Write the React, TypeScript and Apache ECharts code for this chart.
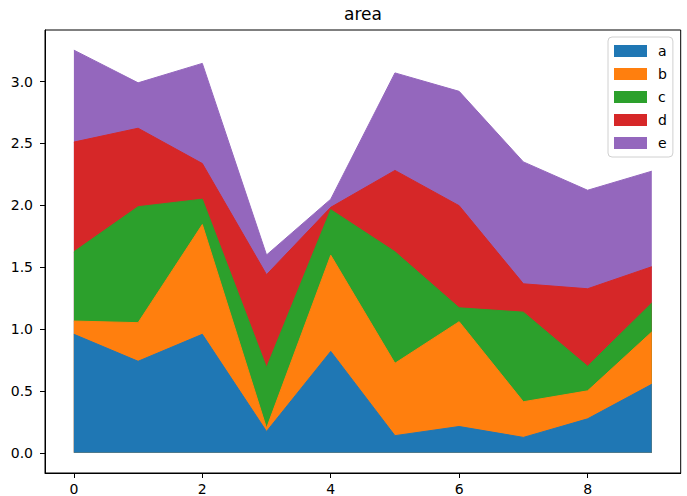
import React, { useEffect, useRef } from "react";
import * as echarts from "echarts";

const xValues = [0, 1, 2, 3, 4, 5, 6, 7, 8, 9];
const seriesNames = ["a", "b", "c", "d", "e"];
const aValues = [0.958, 0.74, 0.958, 0.173, 0.82, 0.139, 0.213, 0.125, 0.275, 0.554];
const bValues = [0.107, 0.312, 0.887, 0.027, 0.777, 0.585, 0.847, 0.288, 0.226, 0.423];
const cValues = [0.56, 0.937, 0.205, 0.49, 0.368, 0.901, 0.112, 0.724, 0.199, 0.234];
const dValues = [0.886, 0.634, 0.288, 0.75, 0.019, 0.657, 0.825, 0.229, 0.626, 0.293];
const eValues = [0.743, 0.367, 0.809, 0.159, 0.066, 0.788, 0.924, 0.985, 0.796, 0.772];
const xTicks = [0, 2, 4, 6, 8];
const yTicks = [0, 0.5, 1.0, 1.5, 2.0, 2.5, 3.0];
const colors = ["#1f77b4", "#ff7f0e", "#2ca02c", "#d62728", "#9467bd"];

export default function App() {
  const ref = useRef<HTMLDivElement>(null);
  useEffect(() => {
    if (!ref.current) return;
    const chart = echarts.init(ref.current, null, { renderer: "svg" });
    const all = [aValues, bValues, cValues, dValues, eValues];
    // cumulative tops (stacked)
    const cum: number[][] = [];
    all.forEach((vals, k) => {
      cum.push(vals.map((v, i) => v + (k > 0 ? cum[k - 1][i] : 0)));
    });
    const totals = cum[cum.length - 1];
    const yMaxData = Math.max(...totals);
    const yMin = -0.05 * yMaxData;
    const yMax = yMaxData * 1.05;
    const span = xValues[xValues.length - 1] - xValues[0];
    const xMin = xValues[0] - 0.05 * span;
    const xMax = xValues[xValues.length - 1] + 0.05 * span;
    const font = "DejaVu Sans";
    // draw topmost cumulative first so lower layers paint over it
    const order = [4, 3, 2, 1, 0];
    chart.setOption({
      animation: false,
      color: colors,
      title: {
        text: "area",
        left: 363,
        textAlign: "center",
        top: 5,
        padding: 0,
        textStyle: { fontFamily: font, fontSize: 17, fontWeight: "normal", color: "#000" },
      },
      grid: {
        left: 45,
        right: 6.3,
        top: 30,
        bottom: 19.3,
        show: true,
        borderColor: "#000",
        borderWidth: 1,
        backgroundColor: "transparent",
      },
      legend: {
        orient: "vertical",
        left: 608,
        top: 37,
        padding: [7, 6, 7, 6],
        itemWidth: 33,
        itemHeight: 12,
        itemGap: 9,
        icon: "rect",
        backgroundColor: "#fff",
        borderColor: "#d0d0d0",
        borderWidth: 1,
        borderRadius: 4,
        textStyle: { fontFamily: font, fontSize: 14, color: "#000", padding: [0, 0, 0, 6] },
        data: seriesNames,
      },
      xAxis: {
        type: "value",
        min: xMin,
        max: xMax,
        axisLine: { show: true, onZero: false, lineStyle: { color: "#000", width: 1 } },
        axisTick: { show: true, length: 5, inside: false, lineStyle: { color: "#000" }, customValues: xTicks },
        axisLabel: { customValues: xTicks, fontFamily: font, fontSize: 14, color: "#000", margin: 9 },
        splitLine: { show: false },
      },
      yAxis: {
        type: "value",
        min: yMin,
        max: yMax,
        axisLine: { show: true, onZero: false, lineStyle: { color: "#000", width: 1 } },
        axisTick: { show: true, length: 5, inside: false, lineStyle: { color: "#000" }, customValues: yTicks },
        axisLabel: {
          customValues: yTicks,
          fontFamily: font,
          fontSize: 14,
          color: "#000",
          margin: 12,
          formatter: (v: number) => v.toFixed(1),
        },
        splitLine: { show: false },
      },
      series: order.map((k) => ({
        name: seriesNames[k],
        type: "line",
        showSymbol: false,
        symbol: "none",
        lineStyle: { width: 1, color: colors[k] },
        areaStyle: { color: colors[k], opacity: 1, origin: 0 },
        itemStyle: { color: colors[k] },
        data: xValues.map((x, i) => [x, cum[k][i]]),
      })),
    });
    return () => chart.dispose();
  }, []);
  return (
    <div
      ref={ref}
      style={{ position: "fixed", left: 0, top: 0, width: 687, height: 496, background: "#fff" }}
    />
  );
}
